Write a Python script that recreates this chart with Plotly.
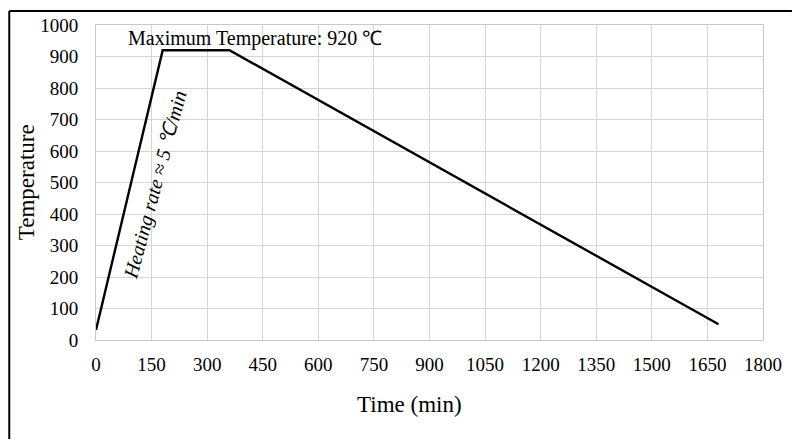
import plotly.graph_objects as go

time_min = [0, 180, 360, 1680]
temperature = [32, 920, 920, 50]
x_ticks = [0, 150, 300, 450, 600, 750, 900, 1050, 1200, 1350, 1500, 1650, 1800]
y_ticks = [0, 100, 200, 300, 400, 500, 600, 700, 800, 900, 1000]

W, H = 794, 439
L, R, T, B = 96, 29, 25, 99
pw, ph = W - L - R, H - T - B

def px(x):
    return (x - L) / pw

def py(y):
    return (H - B - y) / ph

font = "Liberation Serif, Times New Roman, serif"

fig = go.Figure()
fig.add_trace(go.Scatter(x=time_min, y=temperature, mode="lines",
                         line=dict(color="black", width=2.4), showlegend=False))

fig.update_layout(
    width=W, height=H,
    margin=dict(l=L, r=R, t=T, b=B),
    paper_bgcolor="white", plot_bgcolor="white",
    font=dict(family=font, size=19, color="black"),
    xaxis=dict(range=[0, 1800], tickvals=x_ticks, showgrid=True, gridcolor="#d4d4d4",
               gridwidth=1, zeroline=False, showline=True, linecolor="#c8c8c8",
               mirror=True, ticks="", tickfont=dict(size=19), ticklabelstandoff=7),
    yaxis=dict(range=[0, 1000], tickvals=y_ticks, showgrid=True, gridcolor="#d4d4d4",
               gridwidth=1, zeroline=False, showline=True, linecolor="#c8c8c8",
               mirror=True, ticks="", tickfont=dict(size=19), ticklabelstandoff=13),
    shapes=[
        dict(type="line", xref="paper", yref="paper", x0=px(9), x1=px(794),
             y0=py(11), y1=py(11), line=dict(color="black", width=2)),
        dict(type="line", xref="paper", yref="paper", x0=px(9), x1=px(9),
             y0=py(11), y1=py(445), line=dict(color="black", width=2)),
    ],
    annotations=[
        dict(text="Time (min)", xref="paper", yref="paper",
             x=px(410), y=py(404), xanchor="center", yanchor="middle", showarrow=False,
             font=dict(size=23, family=font)),
        dict(text="Temperature", xref="paper", yref="paper",
             x=px(26), y=py(182), xanchor="center", yanchor="middle", showarrow=False,
             textangle=-90, font=dict(size=23, family=font)),
        dict(text="Maximum Temperature: 920 \u2103", xref="paper", yref="paper",
             x=px(126), y=py(39), xanchor="left", yanchor="middle", showarrow=False,
             font=dict(size=20, family=font)),
        dict(text="<i>Heating rate \u2248 5 \u2103/min</i>", xref="paper", yref="paper",
             x=px(155), y=py(185), xanchor="center", yanchor="middle", showarrow=False,
             textangle=-75, font=dict(size=20, family=font)),
    ],
)

fig.write_html("out.html")
